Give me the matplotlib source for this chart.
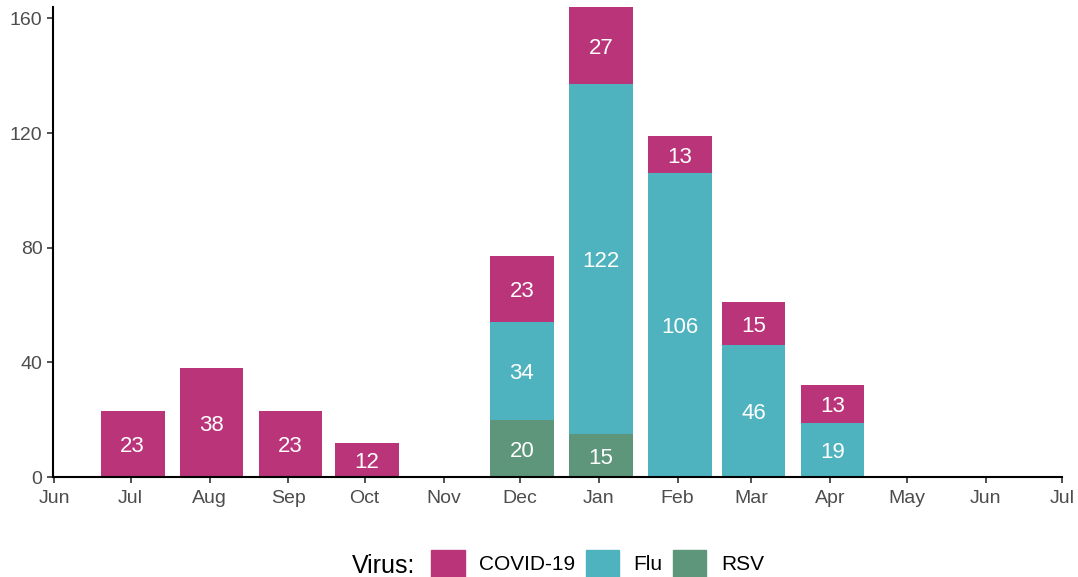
import numpy as np
import pandas as pd
import matplotlib.pyplot as plt
import matplotlib.dates as mdates
from matplotlib.patches import Patch

plt.rcParams['font.family'] = ['Liberation Sans', 'DejaVu Sans']

# monthly case counts by virus
months = ['2023-07-01', '2023-08-01', '2023-09-01', '2023-10-01', '2023-12-01',
          '2024-01-01', '2024-02-01', '2024-03-01', '2024-04-01']
rsv = [0, 0, 0, 0, 20, 15, 0, 0, 0]
flu = [0, 0, 0, 0, 34, 122, 106, 46, 19]
covid = [23, 38, 23, 12, 23, 27, 13, 15, 13]

tick_months = pd.date_range('2023-06-01', '2024-07-01', freq='MS')
colors = {'COVID-19': '#BA3479', 'Flu': '#4FB3BF', 'RSV': '#5D967B'}

dates = pd.to_datetime(months)
x = mdates.date2num(dates)

fig = plt.figure(figsize=(10.78, 5.77), dpi=100)
ax = fig.add_axes([0.049, 0.173, 0.936, 0.815])

bottom = np.zeros(len(x))
for name, vals in [('RSV', rsv), ('Flu', flu), ('COVID-19', covid)]:
    vals = np.array(vals)
    ax.bar(x + 0.8, vals, width=25, bottom=bottom, color=colors[name], align='center')
    for xi, b, v in zip(x, bottom, vals):
        if v > 0:
            ax.text(xi + 0.8, b + v / 2, str(v), ha='center', va='center_baseline',
                    color='white', fontsize=16)
    bottom += vals

ax.set_xlim(mdates.date2num(tick_months[0]) - 0.6, mdates.date2num(tick_months[-1]))
ax.set_ylim(0, 164)
ax.set_xticks(mdates.date2num(tick_months))
ax.set_xticklabels([d.strftime('%b') for d in tick_months])
ax.set_yticks([0, 40, 80, 120, 160])

for s in ['top', 'right']:
    ax.spines[s].set_visible(False)
for s in ['left', 'bottom']:
    ax.spines[s].set_linewidth(1.5)
ax.tick_params(axis='both', labelsize=14, labelcolor='#4D4D4D', length=4.5,
               width=1.2, color='#333333', pad=3)
ax.tick_params(axis='x', pad=5)

handles = [Patch(color=colors[k]) for k in ['COVID-19', 'Flu', 'RSV']]
fig.text(0.326, 0.024, 'Virus:', fontsize=18, ha='left', va='center_baseline')
fig.legend(handles, ['COVID-19', 'Flu', 'RSV'], ncol=3, frameon=False,
           loc='lower left', bbox_to_anchor=(0.4, 0.0), fontsize=15,
           borderpad=0.0, borderaxespad=0.0,
           handlelength=1.6, handleheight=1.6, columnspacing=0.5,
           handletextpad=0.7)

fig.savefig('out.png', dpi=100)
